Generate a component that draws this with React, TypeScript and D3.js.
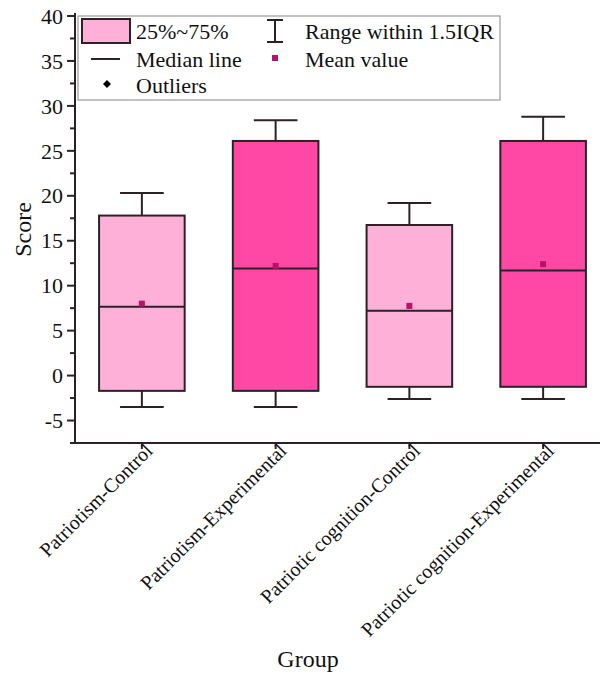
import React from "react";
import * as d3 from "d3";

const categories = [
  "Patriotism-Control",
  "Patriotism-Experimental",
  "Patriotic cognition-Control",
  "Patriotic cognition-Experimental",
];
const whiskerLow = [-3.5, -3.5, -2.6, -2.6];
const q1 = [-1.7, -1.7, -1.25, -1.25];
const median = [7.65, 11.9, 7.2, 11.7];
const meanVals = [8.0, 12.2, 7.75, 12.4];
const q3 = [17.8, 26.1, 16.75, 26.1];
const whiskerHigh = [20.3, 28.4, 19.2, 28.8];
const boxColors = ["#FFB0D9", "#FF47A6", "#FFB0D9", "#FF47A6"];
const yTicks = [-5, 0, 5, 10, 15, 20, 25, 30, 35, 40];

const W = 600;
const H = 677;
const FONT = "'Liberation Serif', 'Times New Roman', serif";
const INK = "#2a2226";

export default function App() {
  const left = 75;
  const right = 610;
  const top = 16;
  const bottom = 443;
  const y = d3.scaleLinear().domain([-7.5, 40]).range([bottom, top]);
  const x = d3.scalePoint<string>().domain(categories).range([left, right]).padding(0.5);
  const step = x.step();
  const bw = step * 0.64;
  const cw = bw * 0.51;
  const minor = d3.range(-7.5, 40.01, 2.5).filter((v) => !yTicks.includes(v));

  return (
    <svg
      width={W}
      height={H}
      style={{ position: "absolute", left: 0, top: 0, background: "#fff" }}
      fontFamily={FONT}
    >
      <rect x={0} y={0} width={W} height={H} fill="#fff" />
      {categories.map((c, i) => {
        const cx = x(c)!;
        return (
          <g key={c} stroke={INK} strokeWidth={2}>
            <line x1={cx} x2={cx} y1={y(whiskerHigh[i])} y2={y(q3[i])} />
            <line x1={cx} x2={cx} y1={y(q1[i])} y2={y(whiskerLow[i])} />
            <line x1={cx - cw / 2} x2={cx + cw / 2} y1={y(whiskerHigh[i])} y2={y(whiskerHigh[i])} />
            <line x1={cx - cw / 2} x2={cx + cw / 2} y1={y(whiskerLow[i])} y2={y(whiskerLow[i])} />
            <rect
              x={cx - bw / 2}
              y={y(q3[i])}
              width={bw}
              height={y(q1[i]) - y(q3[i])}
              fill={boxColors[i]}
            />
            <line x1={cx - bw / 2} x2={cx + bw / 2} y1={y(median[i])} y2={y(median[i])} />
            <rect
              x={cx - 3}
              y={y(meanVals[i]) - 3}
              width={6}
              height={6}
              fill="#B5146A"
              stroke="none"
            />
          </g>
        );
      })}

      <g stroke={INK} strokeWidth={2}>
        <line x1={left} x2={left} y1={top - 3} y2={bottom} />
        {yTicks.map((t) => (
          <line key={t} x1={left - 8} x2={left} y1={y(t)} y2={y(t)} />
        ))}
        {minor.map((t) => (
          <line key={"m" + t} x1={left - 5} x2={left} y1={y(t)} y2={y(t)} />
        ))}
      </g>
      {yTicks.map((t) => (
        <text
          key={"l" + t}
          x={left - 12}
          y={y(t)}
          dy="0.35em"
          textAnchor="end"
          fontSize={22}
          fill="#111"
        >
          {t}
        </text>
      ))}
      <text
        transform={`translate(31,${(top + bottom) / 2}) rotate(-90)`}
        textAnchor="middle"
        fontSize={24}
        fill="#111"
      >
        Score
      </text>

      <g stroke={INK} strokeWidth={2}>
        <line x1={left - 1} x2={right} y1={bottom} y2={bottom} />
        {categories.map((c) => (
          <line key={c} x1={x(c)!} x2={x(c)!} y1={bottom} y2={bottom + 6} />
        ))}
      </g>
      {categories.map((c) => (
        <text
          key={"xl" + c}
          transform={`translate(${x(c)! + 12},${bottom + 9}) rotate(-45)`}
          textAnchor="end"
          fontSize={20}
          fill="#111"
        >
          {c}
        </text>
      ))}
      <text x={308} y={667} textAnchor="middle" fontSize={24} fill="#111">
        Group
      </text>

      <g>
        <rect x={78} y={16} width={422} height={84} fill="#fff" stroke="#9a9a9a" strokeWidth={1.2} />
        <rect x={82} y={19} width={48} height={24} fill={boxColors[0]} stroke={INK} strokeWidth={2} />
        <text x={136} y={31} dy="0.35em" fontSize={22} fill="#111">25%~75%</text>
        <line x1={91} x2={120} y1={59} y2={59} stroke={INK} strokeWidth={2} />
        <text x={136} y={59} dy="0.35em" fontSize={22} fill="#111">Median line</text>
        <path d="M107,80 L111,84 L107,88 L103,84 Z" fill="#000" />
        <text x={136} y={85} dy="0.35em" fontSize={22} fill="#111">Outliers</text>
        <g stroke={INK} strokeWidth={2}>
          <line x1={275} x2={275} y1={20} y2={42} />
          <line x1={267} x2={283} y1={20} y2={20} />
          <line x1={267} x2={283} y1={42} y2={42} />
        </g>
        <text x={305} y={31} dy="0.35em" fontSize={22} fill="#111">Range within 1.5IQR</text>
        <rect x={272} y={55} width={6} height={6} fill="#B5146A" />
        <text x={305} y={59} dy="0.35em" fontSize={22} fill="#111">Mean value</text>
      </g>
    </svg>
  );
}
